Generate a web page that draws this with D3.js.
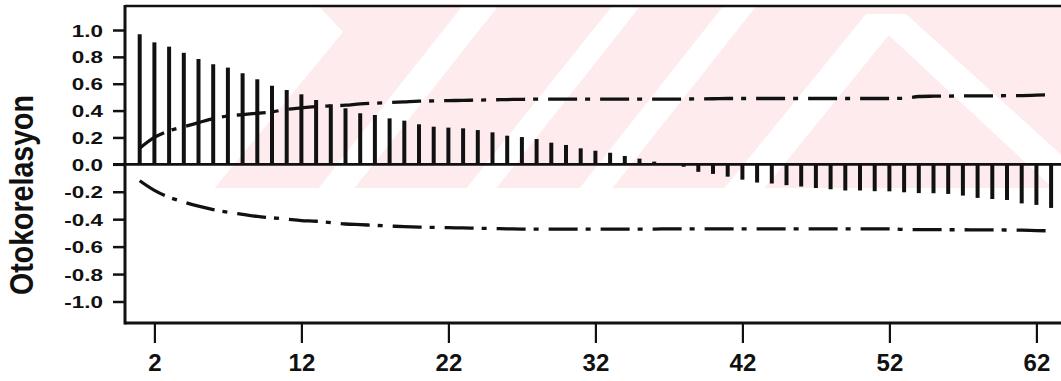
<!DOCTYPE html>
<html>
<head>
<meta charset="utf-8">
<script src="https://cdnjs.cloudflare.com/ajax/libs/d3/7.8.5/d3.min.js"></script>
<style>
  body { margin: 0; background: #fff; }
  svg { display: block; }
  text { font-family: 'Liberation Sans', Arial, sans-serif; font-weight: bold; fill: #111; }
</style>
</head>
<body>
<svg id="chart"></svg>
<script>
// lags 1..63
const lags = d3.range(1, 64);

const acf = [
  0.968, 0.908, 0.876, 0.83, 0.784, 0.745, 0.72, 0.678, 0.633, 0.585,
  0.553, 0.521, 0.479, 0.447, 0.417, 0.38, 0.367, 0.342, 0.325, 0.298,
  0.28, 0.273, 0.268, 0.255, 0.238, 0.213, 0.203, 0.188, 0.161, 0.144,
  0.119, 0.101, 0.086, 0.062, 0.042, 0.02, 0.005, -0.018, -0.055, -0.07,
  -0.09, -0.112, -0.133, -0.14, -0.152, -0.162, -0.173, -0.182, -0.191, -0.191,
  -0.196, -0.197, -0.204, -0.21, -0.211, -0.216, -0.228, -0.245, -0.253, -0.26,
  -0.285, -0.296, -0.318
];

const bandUpper = [
  0.12, 0.2, 0.25, 0.28, 0.31, 0.34, 0.36, 0.37, 0.38, 0.39,
  0.41, 0.42, 0.43, 0.435, 0.44, 0.45, 0.455, 0.46, 0.465, 0.47,
  0.472, 0.474, 0.476, 0.478, 0.48, 0.482, 0.484, 0.485, 0.485, 0.485,
  0.485, 0.485, 0.485, 0.485, 0.485, 0.485, 0.485, 0.486, 0.487, 0.488,
  0.49, 0.49, 0.49, 0.49, 0.49, 0.49, 0.49, 0.49, 0.49, 0.49,
  0.49, 0.49, 0.492, 0.505, 0.507, 0.508, 0.509, 0.51, 0.51, 0.511,
  0.512, 0.515, 0.518
];

const bandLower = [
  -0.12, -0.19, -0.24, -0.275, -0.305, -0.33, -0.35, -0.365, -0.38, -0.39,
  -0.4, -0.41, -0.415, -0.425, -0.435, -0.44, -0.445, -0.45, -0.455, -0.458,
  -0.46, -0.462, -0.464, -0.466, -0.468, -0.47, -0.472, -0.472, -0.472, -0.472,
  -0.472, -0.472, -0.472, -0.472, -0.472, -0.472, -0.47, -0.47, -0.47, -0.47,
  -0.47, -0.47, -0.47, -0.47, -0.47, -0.47, -0.47, -0.47, -0.47, -0.47,
  -0.47, -0.47, -0.475, -0.476, -0.476, -0.477, -0.477, -0.478, -0.478, -0.479,
  -0.48, -0.483, -0.485
];

const yTicks = [1.0, 0.8, 0.6, 0.4, 0.2, 0.0, -0.2, -0.4, -0.6, -0.8, -1.0];
const xTicks = [2, 12, 22, 32, 42, 52, 62];
const yTitle = 'Otokorelasyon';

const width = 1061;
const height = 381;
const plotLeft = 125;
const plotTop = 6;
const plotBottom = 323;

const svg = d3.select('#chart')
  .attr('width', width)
  .attr('height', height);

const x = d3.scaleLinear().domain([0, 64]).range([plotLeft, plotLeft + 64 * 14.7]);
const y = d3.scaleLinear().domain([-1, 0, 1]).range([301.5, 164.3, 30]);

// background watermark (pale pink logo behind the plot)
const wm = svg.append('g');
wm.append('clipPath').attr('id', 'wmclip')
  .append('rect')
  .attr('x', plotLeft).attr('y', plotTop)
  .attr('width', width - plotLeft).attr('height', 188 - plotTop);
const wmg = wm.append('g').attr('clip-path', 'url(#wmclip)');
wmg.append('rect')
  .attr('x', 200).attr('y', plotTop)
  .attr('width', width - 200).attr('height', 188 - plotTop)
  .attr('fill', '#fdebee');
const whiteShapes = [
  [[125, 0], [313, 0], [343, 32], [213, 190], [125, 190]],
  [[467, 0], [503, 0], [353, 190], [317, 190]],
  [[617, 0], [645, 0], [495, 190], [465, 190]],
  [[728, 0], [761, 0], [611, 190], [578, 190]],
  [[866, 14], [906, 14], [763, 190], [723, 190]],
  [[866, 14], [906, 14], [1100, 190], [1055, 190]]
];
wmg.selectAll('polygon')
  .data(whiteShapes)
  .enter()
  .append('polygon')
  .attr('points', d => d.map(p => p.join(',')).join(' '))
  .attr('fill', '#fff');

// bars
svg.append('g')
  .selectAll('line')
  .data(lags)
  .enter()
  .append('line')
  .attr('x1', d => x(d))
  .attr('x2', d => x(d))
  .attr('y1', y(0))
  .attr('y2', (d, i) => y(acf[i]))
  .attr('stroke', '#111')
  .attr('stroke-width', 4);

// confidence bands
const band = d3.line()
  .x(d => x(d[0]))
  .y(d => y(d[1]))
  .curve(d3.curveMonotoneX);

[bandUpper, bandLower].forEach(b => {
  svg.append('path')
    .attr('d', band(lags.map((l, i) => [l, b[i]])))
    .attr('fill', 'none')
    .attr('stroke', '#111')
    .attr('stroke-width', 3.3)
    .attr('stroke-dasharray', '29,8,5,10');
});

// zero line
svg.append('line')
  .attr('x1', plotLeft - 12).attr('x2', width)
  .attr('y1', y(0)).attr('y2', y(0))
  .attr('stroke', '#111')
  .attr('stroke-width', 2.8);

// frame
svg.append('line')
  .attr('x1', plotLeft).attr('x2', width)
  .attr('y1', plotTop).attr('y2', plotTop)
  .attr('stroke', '#111').attr('stroke-width', 2.5);
svg.append('line')
  .attr('x1', plotLeft).attr('x2', width)
  .attr('y1', plotBottom).attr('y2', plotBottom)
  .attr('stroke', '#111').attr('stroke-width', 3);
svg.append('line')
  .attr('x1', plotLeft).attr('x2', plotLeft)
  .attr('y1', plotTop - 1).attr('y2', plotBottom + 1.5)
  .attr('stroke', '#111').attr('stroke-width', 3);

// y axis
const yAxis = svg.append('g')
  .attr('transform', `translate(${plotLeft},0)`)
  .call(d3.axisLeft(y).tickValues(yTicks).tickSize(12).tickFormat(d => d.toFixed(1)));
yAxis.select('.domain').remove();
yAxis.selectAll('line').attr('stroke', '#111').attr('stroke-width', 2.5);
yAxis.selectAll('text')
  .attr('x', -22 / 1.32)
  .attr('dy', '0.36em')
  .attr('transform', 'scale(1.32,1)')
  .style('font-size', '17px')
  .style('font-family', "'Liberation Sans', Arial, sans-serif")
  .style('font-weight', 'bold')
  .attr('fill', '#111');

// x axis
const xAxis = svg.append('g')
  .attr('transform', `translate(0,${plotBottom})`)
  .call(d3.axisBottom(x).tickValues(xTicks).tickSize(20));
xAxis.select('.domain').remove();
xAxis.selectAll('line').attr('stroke', '#111').attr('stroke-width', 2.2);
xAxis.selectAll('text')
  .attr('y', 48)
  .attr('dy', null)
  .style('font-size', '24px')
  .style('font-family', "'Liberation Sans', Arial, sans-serif")
  .style('font-weight', 'bold')
  .attr('fill', '#111');

// y title
svg.append('text')
  .attr('transform', 'translate(33,195) rotate(-90)')
  .attr('text-anchor', 'middle')
  .attr('textLength', 200)
  .attr('lengthAdjust', 'spacingAndGlyphs')
  .style('font-size', '34px')
  .text(yTitle);
</script>
</body>
</html>
